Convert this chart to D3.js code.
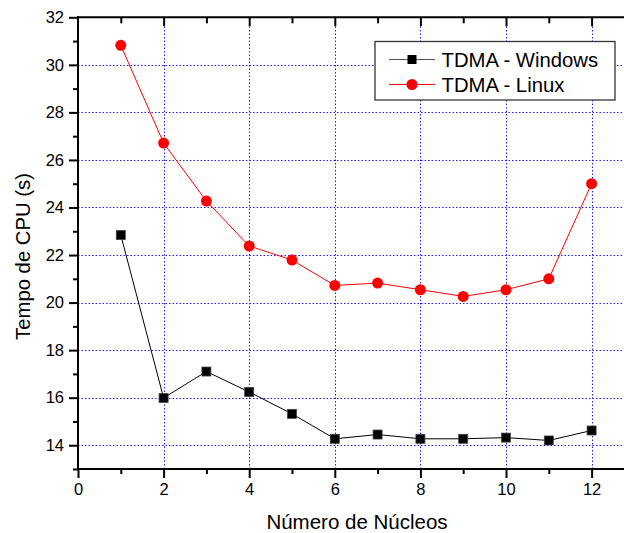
<!DOCTYPE html>
<html>
<head>
<meta charset="utf-8">
<script src="https://cdn.jsdelivr.net/npm/d3@7"></script>
<style>
  html, body { margin: 0; padding: 0; background: #fff; }
  svg { display: block; font-family: "Liberation Sans", Arial, sans-serif; }
</style>
</head>
<body>
<svg id="chart" width="624" height="533"></svg>
<script>
// Number of cores
const cores = [1, 2, 3, 4, 5, 6, 7, 8, 9, 10, 11, 12];
// CPU time (s) per platform
const windowsTimes = [22.84, 15.99, 17.10, 16.24, 15.32, 14.27, 14.45, 14.27, 14.27, 14.32, 14.20, 14.62];
const linuxTimes   = [30.82, 26.71, 24.27, 22.38, 21.79, 20.72, 20.82, 20.54, 20.26, 20.54, 21.00, 25.00];
// Axis ticks
const xTicks = [0, 2, 4, 6, 8, 10, 12];
const yTicks = [14, 16, 18, 20, 22, 24, 26, 28, 30, 32];
const seriesNames = ["TDMA - Windows", "TDMA - Linux"];

const svg = d3.select("#chart");
const plotLeft = 78, plotTop = 17.3, plotBottom = 469;

const x = d3.scaleLinear().domain([0, 13]).range([plotLeft, plotLeft + 13 * 42.8]);
const y = d3.scaleLinear().domain([13, 32]).range([plotBottom, plotTop]);

// dotted blue grid at the major ticks
const gridColor = "#1f1fff";
const gridX = svg.append("g");
xTicks.filter(d => d > 0).forEach(d => {
  const px = Math.round(x(d)) + 0.5;
  gridX.append("line")
    .attr("x1", px).attr("x2", px).attr("y1", plotBottom).attr("y2", plotTop)
    .attr("stroke", gridColor).attr("stroke-width", 1).attr("stroke-dasharray", "1.5,2");
});
const gridY = svg.append("g");
yTicks.filter(d => d < 32).forEach(d => {
  const py = Math.round(y(d)) + 0.5;
  gridY.append("line")
    .attr("x1", plotLeft).attr("x2", 624).attr("y1", py).attr("y2", py)
    .attr("stroke", gridColor).attr("stroke-width", 1).attr("stroke-dasharray", "1.5,2");
});

// axes
const xMinor = d3.range(1, 13, 2);
const yMinor = d3.range(13, 32, 2);
const styleTicks = g => {
  g.select(".domain").remove();
  g.selectAll(".tick line").attr("stroke", "#000").attr("stroke-width", 2);
  g.selectAll(".tick text").attr("font-size", 16.5).attr("fill", "#000")
    .attr("font-family", "Liberation Sans, Arial, sans-serif");
};

svg.append("g").attr("transform", `translate(0,${plotBottom})`)
  .call(d3.axisBottom(x).tickValues(xTicks).tickSize(9).tickPadding(5).tickFormat(d3.format("d")))
  .call(styleTicks);
svg.append("g").attr("transform", `translate(0,${plotBottom})`)
  .call(d3.axisBottom(x).tickValues(xMinor).tickSize(5).tickFormat(""))
  .call(styleTicks);

svg.append("g").attr("transform", `translate(${plotLeft},0)`)
  .call(d3.axisLeft(y).tickValues(yTicks).tickSize(9).tickPadding(5).tickFormat(d3.format("d")))
  .call(styleTicks);
svg.append("g").attr("transform", `translate(${plotLeft},0)`)
  .call(d3.axisLeft(y).tickValues(yMinor).tickSize(5).tickFormat(""))
  .call(styleTicks);

// top axis ticks pointing inward
svg.append("g").attr("transform", `translate(0,${plotTop})`)
  .call(d3.axisBottom(x).tickValues(xTicks.filter(d => d > 0)).tickSize(9).tickFormat(""))
  .call(styleTicks);
svg.append("g").attr("transform", `translate(0,${plotTop})`)
  .call(d3.axisBottom(x).tickValues(xMinor).tickSize(6).tickFormat(""))
  .call(styleTicks);

// frame lines
svg.append("line").attr("x1", plotLeft).attr("x2", plotLeft).attr("y1", plotTop - 1).attr("y2", plotBottom + 1)
  .attr("stroke", "#000").attr("stroke-width", 2);
svg.append("line").attr("x1", plotLeft - 1).attr("x2", 624).attr("y1", plotBottom).attr("y2", plotBottom)
  .attr("stroke", "#000").attr("stroke-width", 2);
svg.append("line").attr("x1", plotLeft - 1).attr("x2", 624).attr("y1", plotTop).attr("y2", plotTop)
  .attr("stroke", "#000").attr("stroke-width", 2);

// series
const line = d3.line().x((d, i) => x(cores[i])).y(d => y(d));
svg.append("path").datum(windowsTimes).attr("d", line)
  .attr("fill", "none").attr("stroke", "#000").attr("stroke-width", 1);
svg.append("path").datum(linuxTimes).attr("d", line)
  .attr("fill", "none").attr("stroke", "#ff0000").attr("stroke-width", 1);

const sq = 9;
svg.append("g").selectAll("rect").data(windowsTimes).join("rect")
  .attr("x", (d, i) => x(cores[i]) - sq / 2).attr("y", d => y(d) - sq / 2)
  .attr("width", sq).attr("height", sq)
  .attr("fill", "#000").attr("stroke", "#444").attr("stroke-width", 0.8);
svg.append("g").selectAll("circle").data(linuxTimes).join("circle")
  .attr("cx", (d, i) => x(cores[i])).attr("cy", d => y(d)).attr("r", 5.5)
  .attr("fill", "#ff0000");

// axis titles
svg.append("text").attr("x", 357).attr("y", 529).attr("text-anchor", "middle")
  .attr("font-size", 20.5).attr("fill", "#000").text("Número de Núcleos");
svg.append("text").attr("transform", "translate(30,256.5) rotate(-90)").attr("text-anchor", "middle")
  .attr("font-size", 20.3).attr("fill", "#000").text("Tempo de CPU (s)");

// legend
const lg = svg.append("g");
lg.append("rect").attr("x", 375).attr("y", 41.5).attr("width", 240).attr("height", 58.5)
  .attr("fill", "#fff").attr("stroke", "#333").attr("stroke-width", 1.3);
const rows = [
  { name: seriesNames[0], color: "#000", lineColor: "#555", shape: "square", cy: 59.5 },
  { name: seriesNames[1], color: "#ff0000", lineColor: "#ff0000", shape: "circle", cy: 84.5 }
];
rows.forEach(r => {
  lg.append("line").attr("x1", 389).attr("x2", 435).attr("y1", r.cy).attr("y2", r.cy)
    .attr("stroke", r.lineColor).attr("stroke-width", 1);
  if (r.shape === "square") {
    lg.append("rect").attr("x", 412 - sq / 2).attr("y", r.cy - sq / 2).attr("width", sq).attr("height", sq)
      .attr("fill", "#000");
  } else {
    lg.append("circle").attr("cx", 412).attr("cy", r.cy).attr("r", 5.5).attr("fill", r.color);
  }
  lg.append("text").attr("x", 441.5).attr("y", r.cy + 7).attr("font-size", 20.3).attr("fill", "#000").text(r.name);
});
</script>
</body>
</html>
